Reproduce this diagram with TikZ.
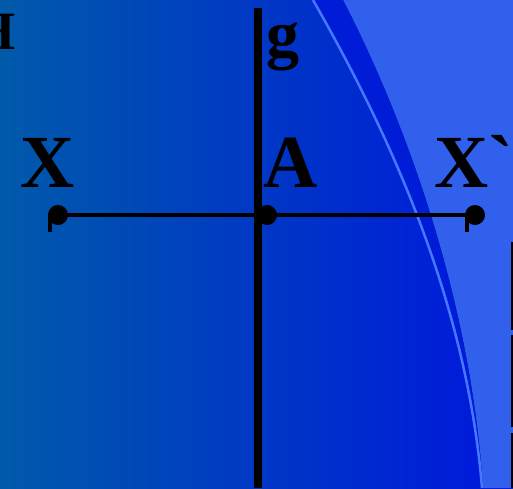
\documentclass[tikz,border=0pt]{standalone}
\usepackage{fontspec}
\setmainfont{Liberation Serif}
\usepackage{tikz}
\definecolor{bgleft}{RGB}{0,90,170}
\definecolor{bgright}{RGB}{0,22,222}
\definecolor{bgdeep}{RGB}{0,28,215}
\definecolor{bglight}{RGB}{48,96,236}
\definecolor{bgstreak}{RGB}{70,120,255}

\begin{document}
\begin{tikzpicture}[x=1pt, y=-1pt,
        axis/.style={line width=4pt, draw=black},
        gline/.style={line width=8pt, draw=black},
        dot/.style={circle, fill=black, inner sep=0pt, minimum size=20pt},
        lbl/.style={font=\fontsize{75}{75}\selectfont\bfseries, inner sep=0pt, anchor=base west}
      ]
      \useasboundingbox (0,0) rectangle (513,488);
      % background
      \shade[left color=bgleft, right color=bgright] (0,0) rectangle (513,488);
      \fill[bglight] (343,0) .. controls (400,110) and (470,290) .. (483,488) -- (513,488) -- (513,0) -- cycle;
      \fill[bgdeep] (313,0) .. controls (370,100) and (465,280) .. (482,488) -- (483,488)
        .. controls (470,290) and (400,110) .. (343,0) -- cycle;
      \draw[bgstreak, line width=2.5pt] (313,0) .. controls (370,100) and (465,280) .. (482,488);
      \draw[black, line width=1.5pt] (512,242) -- (512,330) (512,335) -- (512,427) (512,433) -- (512,488);

      \coordinate (gtop) at (258,8);
      \coordinate (gbot) at (258,488);
      \node[dot] (xl) at (58,215) {};
      \node[dot] (a) at (267,215) {};
      \node[dot] (xr) at (475,215) {};

      \draw[gline] (gtop) -- (gbot);
      \draw[axis] (xl.center) -- (xr.center);
      \draw[axis] (xl.west) ++(2,-2) -- ++(0,19);
      \draw[axis] (xr.west) ++(2,-2) -- ++(0,19);

      \node[lbl] (xllab) at (20,187) {X};
      \node[lbl] (alab) at (263,187) {A};
      \node[lbl] (xrlab) at (434,187) {X\textasciigrave};
      \node[lbl, font=\fontsize{66}{66}\selectfont\bfseries] (glab) at (266,56) {g};
      \node[lbl, anchor=base east, font=\fontsize{54}{54}\selectfont\bfseries] (hlab) at (16,49) {H};
    \end{tikzpicture}
\end{document}
